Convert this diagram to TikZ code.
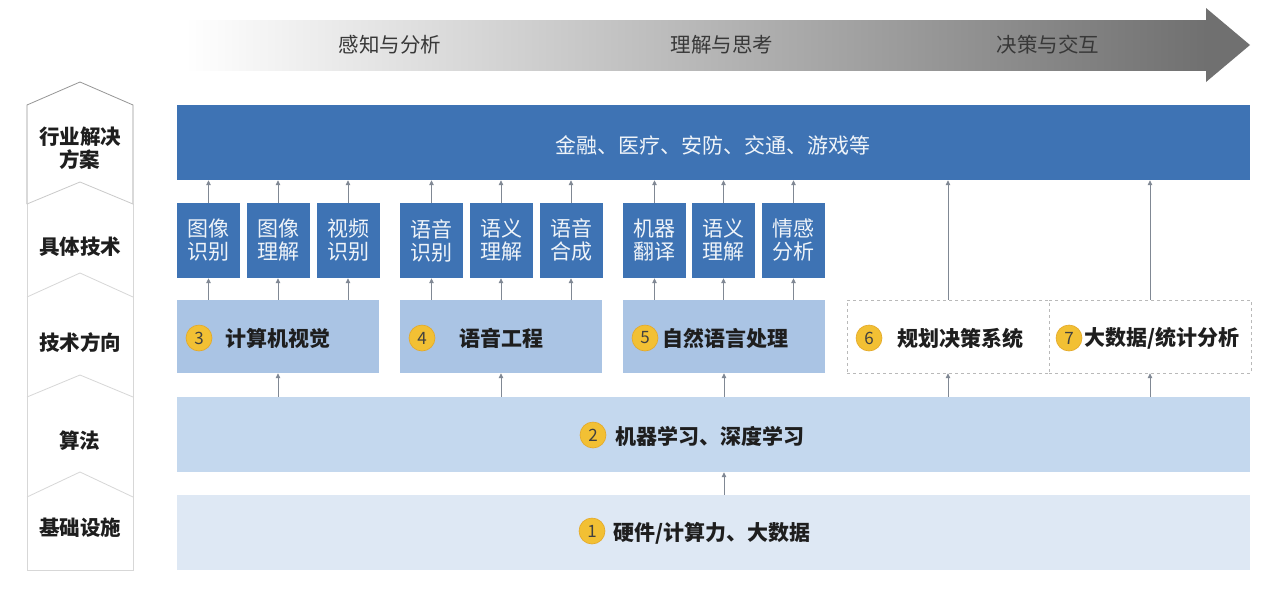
\documentclass[tikz,border=0pt]{standalone}
\usepackage{fontspec}
\newfontfamily\cjk{Noto Sans CJK SC}
\usetikzlibrary{arrows.meta}
\definecolor{dblue}{RGB}{62,115,180}
\definecolor{mblue}{RGB}{170,196,228}
\definecolor{lblue}{RGB}{196,216,238}
\definecolor{pblue}{RGB}{222,232,244}
\definecolor{numyel}{RGB}{242,192,52}
\definecolor{numedge}{RGB}{228,168,40}
\definecolor{arrgray}{RGB}{128,136,148}
\definecolor{txt}{RGB}{30,30,30}
\definecolor{stagegray}{RGB}{190,190,190}
\definecolor{headgray}{RGB}{112,112,112}
\definecolor{colline}{RGB}{150,150,150}
\definecolor{collight}{RGB}{215,215,215}
\tikzset{
 lab/.style={font=\cjk\bfseries\fontsize{20.5}{23}\selectfont, text=txt, align=center, inner sep=0pt},
 stage/.style={font=\cjk\fontsize{20.5}{23}\selectfont, text=black!78, inner sep=0pt},
 bar/.style={minimum width=1073pt, minimum height=75pt, inner sep=0pt},
 techbox/.style={fill=dblue, text=white!92!dblue, minimum width=63pt, minimum height=75pt, inner sep=0pt, align=center, font=\cjk\fontsize{21}{23}\selectfont},
 dirbox/.style={fill=mblue, minimum width=202pt, minimum height=73pt, inner sep=0pt},
 dashbox/.style={draw=gray!55, dashed, fill=white, minimum width=202pt, minimum height=73pt, inner sep=0pt},
 num/.style={circle, fill=numyel, draw=numedge, line width=0.6pt, minimum size=26pt, inner sep=0pt, font=\cjk\fontsize{17}{17}\selectfont, text=txt!85},
 dtext/.style={font=\cjk\bfseries\fontsize{21}{23}\selectfont, text=txt, anchor=west, inner sep=0pt},
 arr/.style={draw=arrgray, line width=0.8pt, -{Triangle[length=5pt,width=4.5pt]}},
}
\begin{document}
\begin{tikzpicture}[x=1pt,y=-1pt]
\useasboundingbox (0,0) rectangle (1270,598);
\fill[white] (0,0) rectangle (1270,598);
% top stage arrow
\shade[left color=white, middle color=stagegray, right color=headgray] (185,20) rectangle (1207,70);
\fill[headgray] (1206,8) -- (1250,45) -- (1206,82) -- cycle;
\node[stage] (p1) at (390,45) {感知与分析};
\node[stage] (p2) at (722,45) {理解与思考};
\node[stage] (p3) at (1048,45) {决策与交互};
% left column
\draw[collight, line width=0.8pt] (27,204) -- (27,570) -- (133,570) -- (133,204);
\foreach \ys/\ya in {297/273, 397/375, 497/472}
  \draw[collight, line width=0.8pt] (27,\ys) -- (80,\ya) -- (133,\ys);
\draw[colline, line width=0.8pt] (27,204) -- (27,105) -- (80,82) -- (133,105) -- (133,204);
\draw[collight!80!colline, line width=0.8pt] (27,204) -- (80,182) -- (133,204);
\node[lab] (l1) at (80,148) {行业解决\\方案};
\node[lab] (l2) at (80,247) {具体技术};
\node[lab] (l3) at (80,343) {技术方向};
\node[lab] (l4) at (80,441) {算法};
\node[lab] (l5) at (80,528) {基础设施};
% industry bar
\node[bar, fill=dblue] (ind) at (713.5,142.5) {};
\node[font=\cjk\fontsize{21}{23}\selectfont, text=white!92!dblue, inner sep=0pt] (indt) at (713,145) {金融、医疗、安防、交通、游戏等};
% tech boxes
\node[techbox] (t1) at (208.5,240.5) {图像\\识别};
\node[techbox] (t2) at (278,240.5) {图像\\理解};
\node[techbox] (t3) at (348,240.5) {视频\\识别};
\node[techbox] (t4) at (431.5,240.5) {语音\\识别};
\node[techbox] (t5) at (501,240.5) {语义\\理解};
\node[techbox] (t6) at (571,240.5) {语音\\合成};
\node[techbox] (t7) at (654.5,240.5) {机器\\翻译};
\node[techbox] (t8) at (723.5,240.5) {语义\\理解};
\node[techbox] (t9) at (793.5,240.5) {情感\\分析};
% direction boxes
\node[dirbox] (d3) at (278,336.5) {};
\node[dirbox] (d4) at (501,336.5) {};
\node[dirbox] (d5) at (724,336.5) {};
\node[dashbox] (d6) at (948,336.5) {};
\node[dashbox] (d7) at (1150,336.5) {};
\node[num] (n3) at (199,338) {3};
\node[dtext] (d3t) at (225,338) {计算机视觉};
\node[num] (n4) at (422,338) {4};
\node[dtext] (d4t) at (459,338) {语音工程};
\node[num] (n5) at (645,338) {5};
\node[dtext] (d5t) at (662,338) {自然语言处理};
\node[num] (n6) at (869,338) {6};
\node[dtext] (d6t) at (897,338) {规划决策系统};
\node[num] (n7) at (1069,338) {7};
\node[dtext] (d7t) at (1084,338) {大数据/统计分析};
% algorithm bar
\node[bar, fill=lblue] (alg) at (713.5,434.5) {};
\node[num] (n2) at (593,435) {2};
\node[dtext] (algt) at (615,436) {机器学习、深度学习};
% infrastructure bar
\node[bar, fill=pblue] (inf) at (713.5,532.5) {};
\node[num] (n1) at (592,531) {1};
\node[dtext] (inft) at (613,533) {硬件/计算力、大数据};
% arrows: tech boxes to industry bar
\foreach \t in {t1,t2,t3,t4,t5,t6,t7,t8,t9}
  \draw[arr] (\t.north) -- (\t.north |- ind.south);
% arrows: direction boxes to tech boxes
\foreach \d/\t in {d3/t1,d3/t2,d3/t3,d4/t4,d4/t5,d4/t6,d5/t7,d5/t8,d5/t9}
  \draw[arr] (\t.south |- \d.north) -- (\t.south);
% arrows: 6,7 to industry bar
\draw[arr] (d6.north) -- (d6.north |- ind.south);
\draw[arr] (d7.north) -- (d7.north |- ind.south);
% arrows: algorithm to directions
\foreach \d in {d3,d4,d5,d6,d7}
  \draw[arr] (\d.south |- alg.north) -- (\d.south);
% arrow: infrastructure to algorithm
\draw[arr] (d5.south |- inf.north) -- (d5.south |- alg.south);
\end{tikzpicture}
\end{document}
